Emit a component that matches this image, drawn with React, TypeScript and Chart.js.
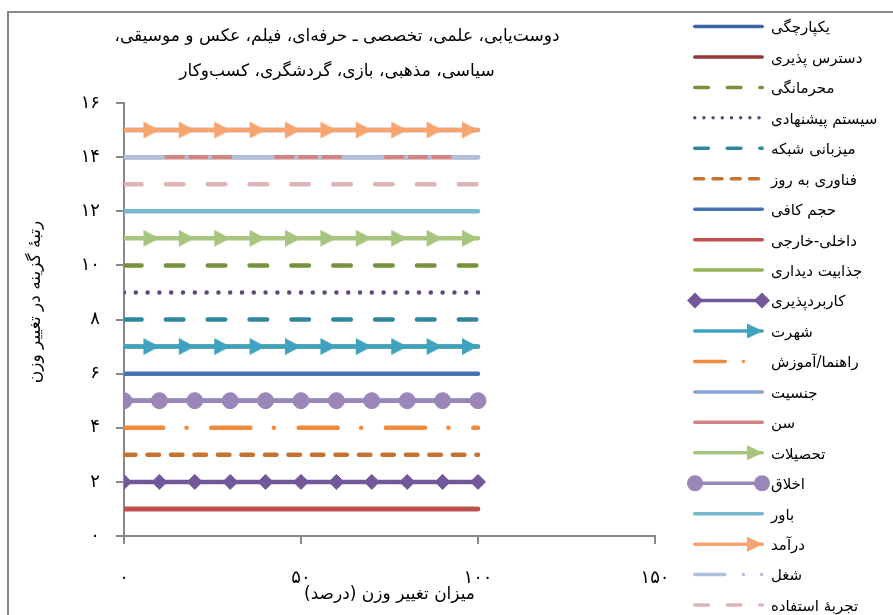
import React, { useEffect, useRef } from 'react';
import { Chart, registerables } from 'chart.js';

Chart.register(...registerables);

// ---------- data ----------
const titleLines = [
  'دوست‌یابی، علمی، تخصصی ـ حرفه‌ای، فیلم، عکس و موسیقی،',
  'سیاسی، مذهبی، بازی، گردشگری، کسب‌وکار',
];
const xAxisTitle = 'میزان تغییر وزن (درصد)';
const yAxisTitle = 'رتبهٔ گزینه در تغییر وزن';

const xTickValues = [0, 50, 100, 150];
const xTickLabels = ['۰', '۵۰', '۱۰۰', '۱۵۰'];
const yTickValues = [0, 2, 4, 6, 8, 10, 12, 14, 16];
const yTickLabels = ['۰', '۲', '۴', '۶', '۸', '۱۰', '۱۲', '۱۴', '۱۶'];

const xPercent = [0, 10, 20, 30, 40, 50, 60, 70, 80, 90, 100];

const seriesNames = [
  'یکپارچگی',
  'دسترس پذیری',
  'محرمانگی',
  'سیستم پیشنهادی',
  'میزبانی شبکه',
  'فناوری به روز',
  'حجم کافی',
  'داخلی-خارجی',
  'جذابیت دیداری',
  'کاربردپذیری',
  'شهرت',
  'راهنما/آموزش',
  'جنسیت',
  'سن',
  'تحصیلات',
  'اخلاق',
  'باور',
  'درآمد',
  'شغل',
  'تجربهٔ استفاده',
];
const seriesRanks = [5, 1, 10, 9, 8, 3, 6, 1, 7, 2, 7, 4, 15, 14, 11, 5, 12, 15, 14, 13];

// ---------- styles ----------
const seriesColors = [
  '#3C66A2', '#953735', '#76923C', '#5F497A', '#31859C', '#C5732F',
  '#4674B2', '#C0504D', '#93B556', '#72579A', '#3FA2BE', '#EE8B3C',
  '#86A3D4', '#D08584', '#A8C57E', '#9A86B8', '#78B9D0', '#F7A46F',
  '#AFC0DC', '#DEB4B4',
];
type LineStyle = 'solid' | 'dash' | 'sysDot' | 'sysDash' | 'lgDashDot' | 'lgDashDotDot';
type Marker = 'none' | 'diamond' | 'circle' | 'arrow';
const seriesLineStyles: LineStyle[] = [
  'solid', 'solid', 'dash', 'sysDot', 'dash', 'sysDash',
  'solid', 'solid', 'solid', 'solid', 'solid', 'lgDashDot',
  'solid', 'solid', 'solid', 'solid', 'solid', 'solid',
  'lgDashDotDot', 'dash',
];
const seriesMarkers: Marker[] = [
  'none', 'none', 'none', 'none', 'none', 'none',
  'none', 'none', 'none', 'diamond', 'arrow', 'none',
  'none', 'none', 'arrow', 'circle', 'none', 'arrow',
  'none', 'none',
];

const FONT = '"DejaVu Sans", "Noto Sans", sans-serif';
const AXIS_COLOR = '#898989';

function dashFor(st: LineStyle, w: number): number[] {
  switch (st) {
    case 'dash': return [3.9 * w, 5.4 * w];
    case 'sysDot': return [0.01, 2.62 * w];
    case 'sysDash': return [2.55 * w, 2.67 * w];
    case 'lgDashDot': return [8.7 * w, 5.2 * w, 0.01, 5.5 * w];
    case 'lgDashDotDot': return [8.6 * w, 5.3 * w, 0.01, 5.2 * w, 0.01, 5.3 * w];
    default: return [];
  }
}

function makeArrow(color: string, len: number, h: number): HTMLCanvasElement {
  const c = document.createElement('canvas');
  c.width = Math.ceil(len * 2 + 2);
  c.height = Math.ceil(h + 2);
  const g = c.getContext('2d')!;
  const cx = c.width / 2;
  const cy = c.height / 2;
  g.fillStyle = color;
  g.beginPath();
  g.moveTo(cx, cy);
  g.lineTo(cx - len, cy - h / 2);
  g.lineTo(cx - len, cy + h / 2);
  g.closePath();
  g.fill();
  return c;
}

const framePlugin = {
  id: 'frame',
  beforeDraw(chart: any) {
    const ctx = chart.ctx;
    ctx.save();
    ctx.fillStyle = '#ffffff';
    ctx.fillRect(0, 0, chart.width, chart.height);
    ctx.strokeStyle = AXIS_COLOR;
    ctx.lineWidth = 2;
    ctx.beginPath();
    ctx.moveTo(8, chart.height + 2);
    ctx.lineTo(8, 12);
    ctx.lineTo(chart.width + 2, 12);
    ctx.stroke();
    ctx.restore();
  },
  beforeDatasetsDraw(chart: any) {
    const ctx = chart.ctx;
    const a = chart.chartArea;
    ctx.save();
    ctx.beginPath();
    ctx.rect(a.left, 0, chart.width - a.left, chart.height);
    ctx.clip();
  },
  afterDatasetsDraw(chart: any) {
    chart.ctx.restore();
  },
};

const textPlugin = {
  id: 'texts',
  afterDraw(chart: any) {
    const ctx = chart.ctx as CanvasRenderingContext2D;
    ctx.save();
    ctx.direction = 'rtl';
    ctx.fillStyle = '#000000';
    ctx.textBaseline = 'middle';
    ctx.textAlign = 'center';
    ctx.font = `17px ${FONT}`;
    ctx.fillText(titleLines[0], 337, 37);
    ctx.fillText(titleLines[1], 337, 72);

    // y axis title
    ctx.save();
    ctx.translate(36, 302);
    ctx.rotate(-Math.PI / 2);
    ctx.font = `17px ${FONT}`;
    ctx.fillText(yAxisTitle, 0, 0);
    ctx.restore();

    // legend
    const lx0 = 693;
    const lx1 = 764;
    const lw = 3.5;
    ctx.font = `15px ${FONT}`;
    seriesNames.forEach((name, i) => {
      const y = 26.5 + i * 30.45;
      const color = seriesColors[i];
      ctx.save();
      ctx.strokeStyle = color;
      ctx.fillStyle = color;
      ctx.lineWidth = lw;
      ctx.lineCap = 'round';
      ctx.setLineDash(dashFor(seriesLineStyles[i], lw));
      ctx.beginPath();
      ctx.moveTo(lx0 + lw / 2, y);
      ctx.lineTo(lx1 - lw / 2, y);
      ctx.stroke();
      ctx.setLineDash([]);
      const mk = seriesMarkers[i];
      if (mk === 'diamond') {
        [695, 762].forEach((cx) => {
          ctx.beginPath();
          ctx.moveTo(cx - 8, y);
          ctx.lineTo(cx, y - 8);
          ctx.lineTo(cx + 8, y);
          ctx.lineTo(cx, y + 8);
          ctx.closePath();
          ctx.fill();
        });
      } else if (mk === 'circle') {
        [695, 762].forEach((cx) => {
          ctx.beginPath();
          ctx.arc(cx, y, 8, 0, Math.PI * 2);
          ctx.fill();
        });
      } else if (mk === 'arrow') {
        ctx.beginPath();
        ctx.moveTo(763, y);
        ctx.lineTo(747, y - 7.5);
        ctx.lineTo(747, y + 7.5);
        ctx.closePath();
        ctx.fill();
      }
      ctx.restore();
      ctx.fillStyle = '#000000';
      ctx.textAlign = 'left';
      ctx.fillText(name, 771, y + 2);
    });
    ctx.restore();
  },
};

export default function App() {
  const ref = useRef<HTMLCanvasElement | null>(null);

  useEffect(() => {
    if (!ref.current) return;
    const arrows: Record<number, HTMLCanvasElement> = {};
    seriesMarkers.forEach((m, i) => {
      if (m === 'arrow') arrows[i] = makeArrow(seriesColors[i], 16, 17);
    });

    const datasets = seriesNames.map((name, i) => {
      const mk = seriesMarkers[i];
      const w = 4.5;
      let pointRadius: any = 0;
      let pointStyle: any = 'circle';
      if (mk === 'diamond') { pointRadius = 7.5; pointStyle = 'rectRot'; }
      if (mk === 'circle') { pointRadius = 8; pointStyle = 'circle'; }
      if (mk === 'arrow') {
        pointRadius = (c: any) => (c.dataIndex === 0 ? 0 : 9);
        pointStyle = arrows[i];
      }
      return {
        label: name,
        data: xPercent.map((x) => ({ x, y: seriesRanks[i] })),
        borderColor: seriesColors[i],
        backgroundColor: seriesColors[i],
        pointBackgroundColor: seriesColors[i],
        pointBorderColor: seriesColors[i],
        pointBorderWidth: 1,
        borderWidth: w,
        borderDash: dashFor(seriesLineStyles[i], w),
        borderCapStyle: 'round',
        borderJoinStyle: 'round',
        pointRadius,
        pointHoverRadius: pointRadius,
        pointStyle,
        fill: false,
        tension: 0,
        order: seriesNames.length - i,
        clip: false,
      };
    });

    const chart = new Chart(ref.current, {
      type: 'line',
      data: { datasets: datasets as any },
      plugins: [framePlugin, textPlugin],
      options: {
        animation: false,
        responsive: false,
        events: [],
        layout: { padding: { left: 0, top: 103, right: 238, bottom: 0 } },
        plugins: {
          legend: { display: false },
          title: { display: false },
          tooltip: { enabled: false },
        },
        scales: {
          x: {
            type: 'linear',
            min: 0,
            max: 150,
            afterBuildTicks: (s: any) => { s.ticks = xTickValues.map((v) => ({ value: v })); },
            afterFit: (s: any) => { s.height = 79; },
            ticks: {
              callback: (_v: any, idx: number) => xTickLabels[idx],
              padding: 24,
              color: '#000000',
              font: { family: FONT, size: 18 },
              maxRotation: 0,
              autoSkip: false,
            },
            grid: { drawOnChartArea: false, drawTicks: true, tickLength: 8, color: AXIS_COLOR, lineWidth: 2 },
            border: { display: true, color: AXIS_COLOR, width: 2 },
            title: {
              display: true,
              text: xAxisTitle,
              color: '#000000',
              font: { family: FONT, size: 17 },
              padding: { top: 0, bottom: 10 },
            },
          },
          y: {
            type: 'linear',
            min: 0,
            max: 16,
            afterBuildTicks: (s: any) => { s.ticks = yTickValues.map((v) => ({ value: v })); },
            afterFit: (s: any) => { s.width = 124; },
            ticks: {
              callback: (_v: any, idx: number) => yTickLabels[idx],
              padding: 16,
              color: '#000000',
              font: { family: FONT, size: 18 },
              autoSkip: false,
            },
            grid: { drawOnChartArea: false, drawTicks: true, tickLength: 8, color: AXIS_COLOR, lineWidth: 2 },
            border: { display: true, color: AXIS_COLOR, width: 2 },
            title: { display: false },
          },
        },
      } as any,
    });
    return () => chart.destroy();
  }, []);

  return (
    <div style={{ position: 'fixed', left: 0, top: 0, width: 893, height: 615, overflow: 'hidden', background: '#fff' }}>
      <canvas ref={ref} width={893} height={615} dir="rtl" style={{ width: 893, height: 615, display: 'block', direction: 'rtl' }} />
    </div>
  );
}
